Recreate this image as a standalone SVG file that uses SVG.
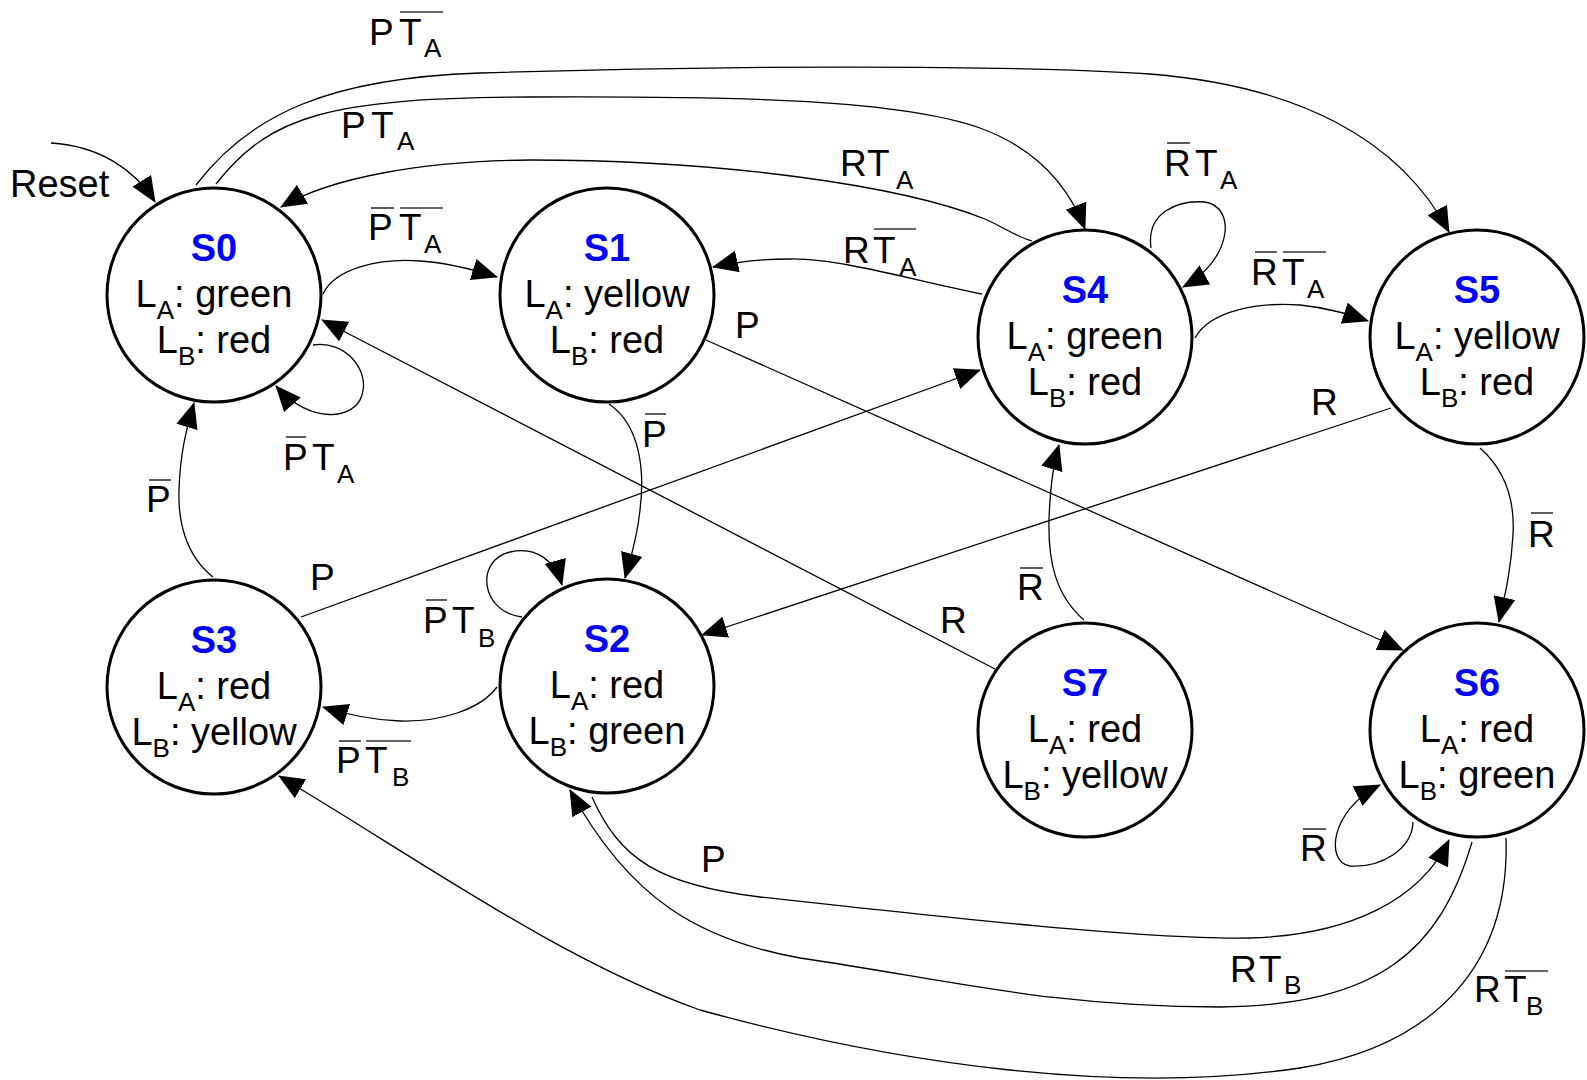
<svg xmlns="http://www.w3.org/2000/svg" width="1587" height="1080" viewBox="0 0 1587 1080">
<style>
.node{fill:#fff;stroke:#000;stroke-width:3}
.title{font-family:"Liberation Sans",Arial,sans-serif;font-size:38px;font-weight:bold;fill:#0000ff;text-anchor:middle}
.nt{font-family:"Liberation Sans",Arial,sans-serif;font-size:38px;fill:#000;text-anchor:middle}
.nsub{font-size:26px}
.edge{fill:none;stroke:#000;stroke-width:1.3;marker-end:url(#ah)}
.lbl{font-family:"Liberation Sans",Arial,sans-serif;font-size:37px;fill:#000}
.sub{font-size:26px}
.ov{stroke:#333;stroke-width:1.6}
</style>
<defs>
<marker id="ah" markerUnits="userSpaceOnUse" markerWidth="26" markerHeight="22" refX="25" refY="11" orient="auto" viewBox="0 0 26 22">
<path d="M0,0 L26,11 L0,22 Z" fill="#000"/>
</marker>
</defs>
<rect width="1587" height="1080" fill="#fff"/>
<g id="connectors">
<path class="edge" d="M51,143 C100,146 135,170 155,202"/>
<path class="edge" d="M196,185 C250,114 330,78 480,73 C700,66 1000,64 1150,74 C1300,86 1400,140 1449,232"/>
<path class="edge" d="M216,184 C270,115 330,98 530,97 C750,96 900,100 980,128 C1040,150 1070,190 1085,229"/>
<path class="edge" d="M1032,241 C1015,236 1005,228 985,219 C900,185 720,160 530,160 C420,161 330,178 281,207"/>
<path class="edge" d="M982,294 C920,282 840,258 790,259 C760,259 735,262 713,267"/>
<path class="edge" d="M323,294 C335,268 380,258 420,261 C450,263 475,270 497,277"/>
<path class="edge" d="M313,345 C345,340 370,370 362,395 C355,420 310,425 276,386"/>
<path class="edge" d="M213,577 C185,555 178,520 179,490 C180,455 186,430 194,403"/>
<path class="edge" d="M301,617 L980,370"/>
<path class="edge" d="M995,669 L322,320"/>
<path class="edge" d="M706,340 L1403,650"/>
<path class="edge" d="M1391,408 L702,635"/>
<path class="edge" d="M609,404 C640,425 645,470 640,510 C637,540 630,560 625,578"/>
<path class="edge" d="M522,617 C480,612 475,560 510,552 C535,546 555,560 562,585"/>
<path class="edge" d="M497,687 C480,710 440,722 400,721 C370,720 345,714 323,707"/>
<path class="edge" d="M592,797 C620,860 660,885 760,897 C950,918 1150,940 1250,938 C1350,935 1420,900 1449,840"/>
<path class="edge" d="M1472,842 C1440,950 1380,1005 1220,1007 C1050,1007 950,980 800,958 C700,940 630,900 570,790"/>
<path class="edge" d="M1506,838 C1510,960 1440,1045 1300,1068 C1120,1095 900,1065 700,1010 C560,960 420,860 279,776"/>
<path class="edge" d="M1413,822 C1412,850 1380,868 1350,866 C1325,862 1330,810 1380,785"/>
<path class="edge" d="M1151,248 C1146,212 1178,200 1205,202 C1237,207 1232,260 1183,287"/>
<path class="edge" d="M1195,338 C1210,310 1260,302 1300,305 C1330,308 1350,315 1368,321"/>
<path class="edge" d="M1480,448 C1505,470 1515,500 1513,535 C1511,570 1505,595 1499,622"/>
<path class="edge" d="M1084,620 C1055,595 1048,560 1049,520 C1050,490 1053,465 1059,445"/>
</g>
<g id="edge-labels">
<text class="lbl" x="10" y="197" style="font-size:38px">Reset</text>
<text class="lbl" y="45"><tspan x="369">P</tspan><tspan x="399">T</tspan><tspan class="sub" x="424" dy="12">A</tspan></text>
<line class="ov" x1="400" y1="12" x2="443" y2="12"/>
<text class="lbl" y="138"><tspan x="341">P</tspan><tspan x="371">T</tspan><tspan class="sub" x="397" dy="12">A</tspan></text>
<text class="lbl" y="240"><tspan x="368">P</tspan><tspan x="399">T</tspan><tspan class="sub" x="424" dy="13">A</tspan></text>
<line class="ov" x1="371" y1="208" x2="394" y2="208"/>
<line class="ov" x1="400" y1="208" x2="443" y2="208"/>
<text class="lbl" y="176"><tspan x="840">R</tspan><tspan x="867">T</tspan><tspan class="sub" x="896" dy="13">A</tspan></text>
<text class="lbl" y="263"><tspan x="843">R</tspan><tspan x="873">T</tspan><tspan class="sub" x="899" dy="13">A</tspan></text>
<line class="ov" x1="874" y1="229" x2="916" y2="229"/>
<text class="lbl" x="735" y="338">P</text>
<text class="lbl" y="176"><tspan x="1164">R</tspan><tspan x="1195">T</tspan><tspan class="sub" x="1220" dy="13">A</tspan></text>
<line class="ov" x1="1167" y1="143" x2="1190" y2="143"/>
<text class="lbl" y="285"><tspan x="1251">R</tspan><tspan x="1282">T</tspan><tspan class="sub" x="1307" dy="13">A</tspan></text>
<line class="ov" x1="1255" y1="252" x2="1277" y2="252"/>
<line class="ov" x1="1283" y1="252" x2="1326" y2="252"/>
<text class="lbl" y="470"><tspan x="283">P</tspan><tspan x="312">T</tspan><tspan class="sub" x="337" dy="13">A</tspan></text>
<line class="ov" x1="286" y1="437" x2="306" y2="437"/>
<text class="lbl" x="146" y="512">P</text>
<line class="ov" x1="149" y1="480" x2="171" y2="480"/>
<text class="lbl" x="310" y="590">P</text>
<text class="lbl" y="633"><tspan x="423">P</tspan><tspan x="452">T</tspan><tspan class="sub" x="478" dy="14">B</tspan></text>
<line class="ov" x1="426" y1="600" x2="447" y2="600"/>
<text class="lbl" y="773"><tspan x="336">P</tspan><tspan x="365">T</tspan><tspan class="sub" x="392" dy="13">B</tspan></text>
<line class="ov" x1="339" y1="741" x2="361" y2="741"/>
<line class="ov" x1="366" y1="741" x2="411" y2="741"/>
<text class="lbl" x="642" y="447">P</text>
<line class="ov" x1="645" y1="414" x2="666" y2="414"/>
<text class="lbl" x="940" y="633">R</text>
<text class="lbl" x="1017" y="600">R</text>
<line class="ov" x1="1020" y1="568" x2="1043" y2="568"/>
<text class="lbl" x="1311" y="415">R</text>
<text class="lbl" x="1528" y="547">R</text>
<line class="ov" x1="1531" y1="513" x2="1553" y2="513"/>
<text class="lbl" x="701" y="872">P</text>
<text class="lbl" x="1300" y="861">R</text>
<line class="ov" x1="1303" y1="829" x2="1326" y2="829"/>
<text class="lbl" y="982"><tspan x="1230">R</tspan><tspan x="1259">T</tspan><tspan class="sub" x="1284" dy="12">B</tspan></text>
<text class="lbl" y="1002"><tspan x="1474">R</tspan><tspan x="1504">T</tspan><tspan class="sub" x="1526" dy="13">B</tspan></text>
<line class="ov" x1="1505" y1="971" x2="1548" y2="971"/>
</g>
<g id="S0">
<circle class="node" cx="214" cy="295" r="107"/>
<text class="title" x="214" y="261">S0</text>
<text class="nt" x="214" y="307">L<tspan class="nsub" dy="12">A</tspan><tspan dy="-12">: green</tspan></text>
<text class="nt" x="214" y="353">L<tspan class="nsub" dy="12">B</tspan><tspan dy="-12">: red</tspan></text>
</g>
<g id="S1">
<circle class="node" cx="607" cy="295" r="107"/>
<text class="title" x="607" y="261">S1</text>
<text class="nt" x="607" y="307">L<tspan class="nsub" dy="12">A</tspan><tspan dy="-12">: yellow</tspan></text>
<text class="nt" x="607" y="353">L<tspan class="nsub" dy="12">B</tspan><tspan dy="-12">: red</tspan></text>
</g>
<g id="S4">
<circle class="node" cx="1085" cy="337" r="107"/>
<text class="title" x="1085" y="303">S4</text>
<text class="nt" x="1085" y="349">L<tspan class="nsub" dy="12">A</tspan><tspan dy="-12">: green</tspan></text>
<text class="nt" x="1085" y="395">L<tspan class="nsub" dy="12">B</tspan><tspan dy="-12">: red</tspan></text>
</g>
<g id="S5">
<circle class="node" cx="1477" cy="337" r="107"/>
<text class="title" x="1477" y="303">S5</text>
<text class="nt" x="1477" y="349">L<tspan class="nsub" dy="12">A</tspan><tspan dy="-12">: yellow</tspan></text>
<text class="nt" x="1477" y="395">L<tspan class="nsub" dy="12">B</tspan><tspan dy="-12">: red</tspan></text>
</g>
<g id="S3">
<circle class="node" cx="214" cy="687" r="107"/>
<text class="title" x="214" y="653">S3</text>
<text class="nt" x="214" y="699">L<tspan class="nsub" dy="12">A</tspan><tspan dy="-12">: red</tspan></text>
<text class="nt" x="214" y="745">L<tspan class="nsub" dy="12">B</tspan><tspan dy="-12">: yellow</tspan></text>
</g>
<g id="S2">
<circle class="node" cx="607" cy="686" r="107"/>
<text class="title" x="607" y="652">S2</text>
<text class="nt" x="607" y="698">L<tspan class="nsub" dy="12">A</tspan><tspan dy="-12">: red</tspan></text>
<text class="nt" x="607" y="744">L<tspan class="nsub" dy="12">B</tspan><tspan dy="-12">: green</tspan></text>
</g>
<g id="S7">
<circle class="node" cx="1085" cy="730" r="107"/>
<text class="title" x="1085" y="696">S7</text>
<text class="nt" x="1085" y="742">L<tspan class="nsub" dy="12">A</tspan><tspan dy="-12">: red</tspan></text>
<text class="nt" x="1085" y="788">L<tspan class="nsub" dy="12">B</tspan><tspan dy="-12">: yellow</tspan></text>
</g>
<g id="S6">
<circle class="node" cx="1477" cy="730" r="107"/>
<text class="title" x="1477" y="696">S6</text>
<text class="nt" x="1477" y="742">L<tspan class="nsub" dy="12">A</tspan><tspan dy="-12">: red</tspan></text>
<text class="nt" x="1477" y="788">L<tspan class="nsub" dy="12">B</tspan><tspan dy="-12">: green</tspan></text>
</g>
</svg>
